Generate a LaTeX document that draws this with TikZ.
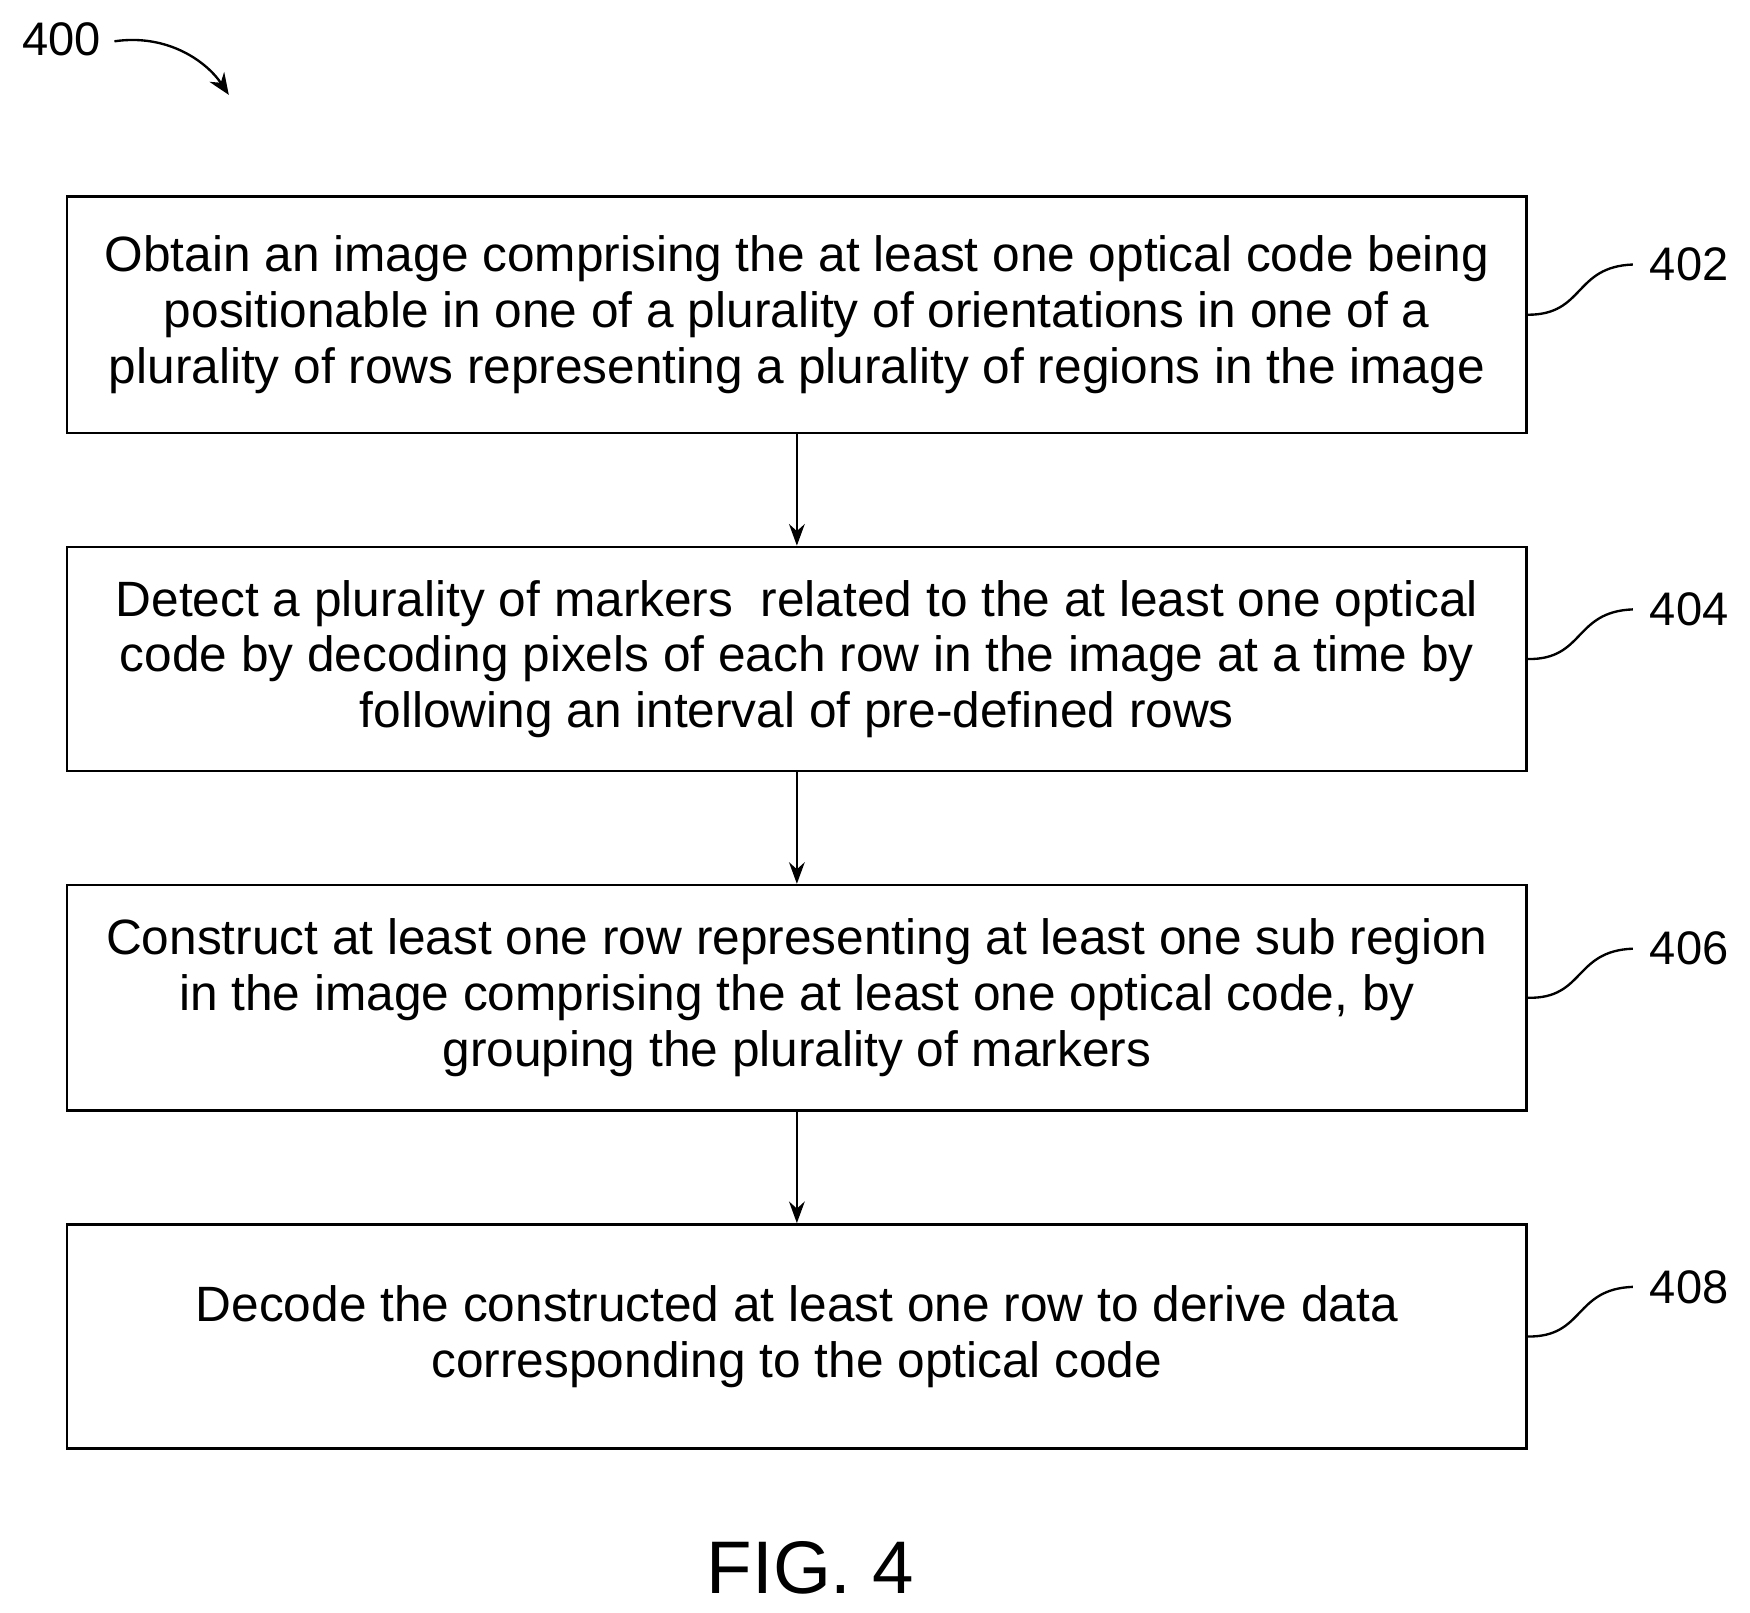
\documentclass[tikz,border=0pt]{standalone}
\usepackage{fontspec}
\setmainfont{Liberation Sans}
\usetikzlibrary{arrows.meta}
\begin{document}
\begin{tikzpicture}[x=0.02cm,y=-0.02cm,
  box/.style={draw,line width=1.3pt,minimum width=26.16cm,inner sep=0pt,align=center,font=\fontsize{25.3}{28.4}\selectfont},
  arr/.style={-{Stealth[length=11pt,width=8pt]},line width=1.2pt},
  lbl/.style={font=\fontsize{24}{28}\selectfont,anchor=west,inner sep=0pt},
  lead/.style={line width=1.2pt}]
\useasboundingbox (0,0) rectangle (1568,1445);
\node[box,minimum height=4.24cm] (b1) at (714,282) {Obtain an image comprising the at least one optical code being\\positionable in one of a plurality of orientations in one of a\\plurality of rows representing a plurality of regions in the image};
\node[box,minimum height=4.02cm] (b2) at (714,590.5) {Detect a plurality of markers\ \ related to the at least one optical\\code by decoding pixels of each row in the image at a time by\\following an interval of pre-defined rows};
\node[box,minimum height=4.04cm] (b3) at (714,894) {Construct at least one row representing at least one sub region\\in the image comprising the at least one optical code, by\\grouping the plurality of markers};
\node[box,minimum height=4.02cm] (b4) at (714,1197.5) {Decode the constructed at least one row to derive data\\corresponding to the optical code};
\draw[arr] (b1) -- (b2);
\draw[arr] (b2) -- (b3);
\draw[arr] (b3) -- (b4);
\foreach \b/\t/\y in {b1/402/237,b2/404/546,b3/406/850,b4/408/1153}{
  \node[lbl] (l\t) at (1478,\y) {\t};
  \draw[lead] (\b.east) .. controls (1420,282-237+\y) and (1410,\y+2) .. ([xshift=-0.3cm]l\t.west);
}
\node[font=\fontsize{24}{28}\selectfont,inner sep=0pt] (n400) at (55,35) {400};
\coordinate (a400) at (205,85);
\draw[lead,-{Stealth[length=11pt,width=9pt]}] (n400.east) ++(12,2) .. controls (150,30) and (185,55) .. (a400);
\node[font=\fontsize{38}{44}\selectfont] (fig) at (726,1405) {FIG. 4};
\end{tikzpicture}
\end{document}
